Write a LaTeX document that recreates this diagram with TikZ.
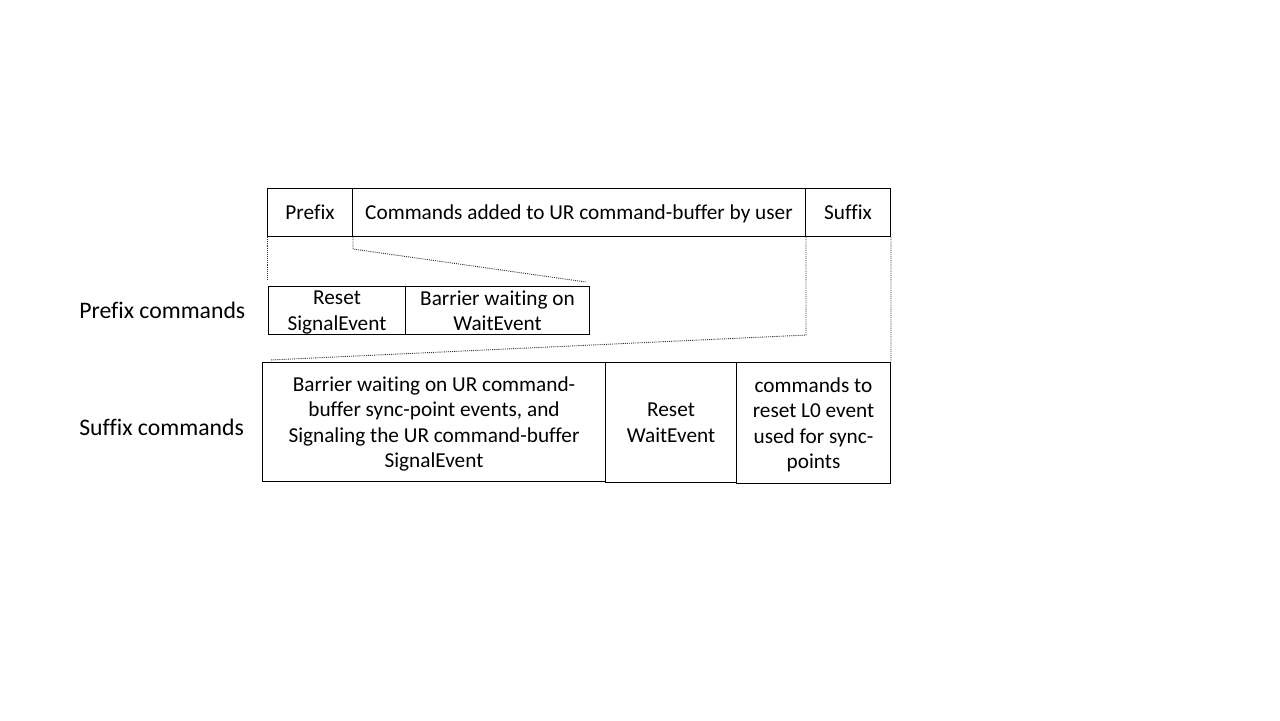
\documentclass[tikz,border=0pt]{standalone}
\usepackage{fontspec}
\setmainfont[Ligatures=NoCommon]{Carlito}
\usetikzlibrary{calc}
\tikzset{
  cbox/.style={draw,line width=0.6pt,inner sep=0pt,align=center,anchor=north west,text depth=0pt,font=\fontsize{12.1}{14.5}\selectfont},
  rowlabel/.style={anchor=west,inner sep=0pt,font=\fontsize{13.5}{15}\selectfont},
  dotline/.style={line width=0.5pt,dash pattern=on 0.6pt off 0.6pt,color=black!80}
}
\begin{document}
\begin{tikzpicture}[x=0.02cm,y=-0.02cm]
			\useasboundingbox (0,0) rectangle (1280,720);
			% command-buffer
			\node[cbox,minimum width=1.70cm,minimum height=0.96cm] (pre) at (267,188) {Prefix};
			\node[cbox,minimum width=9.06cm,minimum height=0.96cm] (usr) at (352,188) {Commands added to UR command-buffer by user};
			\node[cbox,minimum width=1.70cm,minimum height=0.96cm] (sfx) at (805,188) {Suffix};
			% prefix row
			\node[rowlabel] (prelbl) at (79,310) {Prefix commands};
			\node[cbox,minimum width=2.74cm,minimum height=0.96cm] (rse) at (268,286) {Reset\\SignalEvent};
			\node[cbox,minimum width=3.68cm,minimum height=0.96cm] (bwe) at (405,286) {Barrier waiting on\\WaitEvent};
			% suffix row
			\node[rowlabel] (sfxlbl) at (79,427) {Suffix commands};
			\node[cbox,minimum width=6.86cm,minimum height=2.38cm] (sbar) at (262,362) {Barrier waiting on UR command-\\buffer sync-point events, and\\Signaling the UR command-buffer\\SignalEvent};
			\node[cbox,minimum width=2.62cm,minimum height=2.40cm] (rwe) at (605,362) {Reset\\WaitEvent};
			\node[cbox,minimum width=3.08cm,minimum height=2.42cm] (cmd) at (736,362) {commands to\\reset L0 event\\used for sync-\\points};
			% zoom lines
			\coordinate (p1) at ($(rse.north west)+(-1,-6)$);
			\coordinate (p2) at ($(bwe.north east)+(-4,-4)$);
			\coordinate (s1) at ($(sbar.north west)+(8,-2)$);
			\draw[dotline] (pre.south west) -- (p1);
			\draw[dotline] (pre.south east) -- ++(0,12) -- (p2);
			\draw[dotline] (usr.south east) -- (usr.south east |- bwe.south) -- (s1);
			\draw[dotline] (sfx.south east) -- (cmd.north east);
		\end{tikzpicture}
\end{document}
